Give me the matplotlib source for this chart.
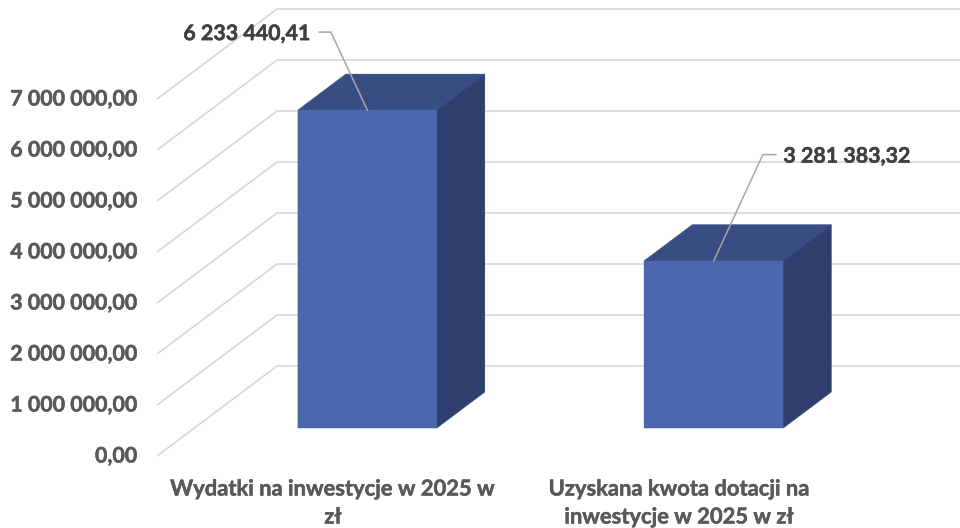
import matplotlib
matplotlib.use("Agg")
import matplotlib.pyplot as plt
from matplotlib.patches import Polygon
import matplotlib.patheffects as pe

categories = ["Wydatki na inwestycje w 2025 w\nzł", "Uzyskana kwota dotacji na\ninwestycje w 2025 w zł"]
values = [6233440.41, 3281383.32]
value_labels = ["6 233 440,41", "3 281 383,32"]
ticks = [0, 1e6, 2e6, 3e6, 4e6, 5e6, 6e6, 7e6]
tick_labels = ["0,00", "1 000 000,00", "2 000 000,00", "3 000 000,00", "4 000 000,00",
               "5 000 000,00", "6 000 000,00", "7 000 000,00"]

plt.rcParams['font.family'] = ['Lato', 'DejaVu Sans']
W, H = 960, 528
fig = plt.figure(figsize=(W / 100, H / 100), dpi=100, facecolor="white")
ax = fig.add_axes([0, 0, 1, 1])
ax.axis("off")

# Layout: pixels
X0, XSTEP = 330.0, 346.5        # px of category 0, px per category
Y0, YSCALE = 456.0, 51.0 / 1e6  # px of value 0 on the front edge, px per unit
DX, DY = 120.0, 90.0            # floor depth in px
ax.set_xlim(-X0 / XSTEP, (W - X0) / XSTEP)
ax.set_ylim(-(H - Y0) / YSCALE, Y0 / YSCALE)

def proj(c, v, d):
    """Oblique projection: category, value, depth (0 front .. 1 back)."""
    return (c + d * DX / XSTEP, v + d * DY / YSCALE)

def dx(px):
    return px / XSTEP

def dy(px):
    return px / YSCALE

FS = 15.4
def heavier(color):
    return [pe.withStroke(linewidth=0.35, foreground=color)]

GRID = "#d9d9d9"
c_left = -(X0 - 157) / XSTEP
c_right = (W - X0) / XSTEP
for t, lab in zip(ticks, tick_labels):
    a = (c_left, t)
    b = proj(c_left, t, 1)
    c = (c_right, b[1])
    ax.plot([a[0], b[0], c[0]], [a[1], b[1], c[1]], color=GRID, lw=1.25, zorder=1,
            solid_joinstyle="miter", solid_capstyle="butt")
    ax.text(c_left - dx(20), t + dy(-0.5), lab, ha="right", va="center",
            fontsize=FS, fontweight="bold", color="#595959", path_effects=heavier("#595959"))

half = 69.5 / XSTEP
D1, D2 = 28 / 90, 64 / 90
FRONT, TOP, SIDE = "#4A66AC", "#384D82", "#2E3F6E"
EDGE = "#c9d2e6"
for i, v in enumerate(values):
    l, r = i - half, i + half
    side = [proj(r, 0, D1), proj(r, v, D1), proj(r, v, D2), proj(r, 0, D2)]
    top = [proj(l, v, D1), proj(r, v, D1), proj(r, v, D2), proj(l, v, D2)]
    front = [proj(l, 0, D1), proj(r, 0, D1), proj(r, v, D1), proj(l, v, D1)]
    outline = [proj(l, 0, D1), proj(r, 0, D1), proj(r, 0, D2), proj(r, v, D2), proj(l, v, D2), proj(l, v, D1)]
    ax.add_patch(Polygon(outline, closed=True, facecolor=FRONT, edgecolor=EDGE, lw=0.6, zorder=2))
    for pts, col in ((side, SIDE), (top, TOP), (front, FRONT)):
        ax.add_patch(Polygon(pts, closed=True, facecolor=col, edgecolor=col, lw=0.2, zorder=2.5))

# data labels and leader lines: offsets in px from the middle of the bar's top-front edge
leaders = [((-36.5, 78), (-48, 78), (-57, 76)), ((49, 106), (62, 106), (69.5, 104))]
aligns = ["right", "left"]
for i, v in enumerate(values):
    start = proj(i, v, D1)
    (kx, ky), (ex, ey), (tx, ty) = leaders[i]
    xs = [start[0], start[0] + dx(kx), start[0] + dx(ex)]
    ys = [start[1], start[1] + dy(ky), start[1] + dy(ey)]
    ax.plot(xs, ys, color="#a6a6a6", lw=1.1, zorder=3, solid_joinstyle="miter")
    ax.text(start[0] + dx(tx), start[1] + dy(ty), value_labels[i], ha=aligns[i], va="center",
            fontsize=FS, fontweight="bold", color="#404040", zorder=4, path_effects=heavier("#404040"))

# category labels
for i, lab in enumerate(categories):
    x = i + dx(3)
    for j, line in enumerate(lab.split("\n")):
        ax.text(x, -dy(489 - Y0 + 28 * j), line, ha="center", va="center",
                fontsize=15.8, fontweight="bold", color="#595959", path_effects=heavier("#595959"))

fig.savefig("out.png", dpi=100, facecolor="white")
